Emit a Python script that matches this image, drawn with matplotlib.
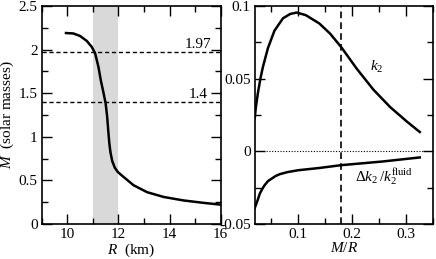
import matplotlib
matplotlib.use("Agg")
import matplotlib.pyplot as plt
from matplotlib.ticker import MultipleLocator

plt.rcParams['font.family'] = ['Liberation Serif', 'DejaVu Serif']
plt.rcParams['mathtext.fontset'] = 'custom'
plt.rcParams['mathtext.rm'] = 'Liberation Serif'
plt.rcParams['mathtext.it'] = 'Liberation Serif:italic'
plt.rcParams['font.size'] = 11

# Left panel: mass-radius curve
R_km = [9.95, 10.24, 10.50, 10.76, 10.96, 11.09, 11.22, 11.31, 11.42, 11.50,
        11.56, 11.60, 11.645, 11.69, 11.76, 11.86, 11.98, 12.2, 12.59, 13.12,
        13.77, 14.55, 15.34, 16.0]
M_sol = [2.19, 2.185, 2.156, 2.10, 2.03, 1.957, 1.80, 1.65, 1.50, 1.384,
         1.23, 1.08, 0.925, 0.82, 0.72, 0.645, 0.595, 0.54, 0.445, 0.365,
         0.31, 0.27, 0.242, 0.222]
mass_lines = [1.97, 1.4]
mass_labels = ["1.97", "1.4"]
band = [11, 12]

# Right panel: Love number vs compactness
C_k2 = [0.0195, 0.0215, 0.0253, 0.030, 0.0346, 0.0439, 0.056, 0.0717, 0.085,
        0.097, 0.114, 0.139, 0.159, 0.18, 0.208, 0.239, 0.27, 0.301, 0.325]
k2 = [0.0227, 0.030, 0.040, 0.050, 0.058, 0.071, 0.083, 0.0915, 0.0945,
      0.0955, 0.0937, 0.088, 0.081, 0.0715, 0.057, 0.0425, 0.0305, 0.0205, 0.0133]
C_dk = [0.0195, 0.025, 0.029, 0.034, 0.038, 0.044, 0.050, 0.058, 0.066, 0.08,
        0.1, 0.138, 0.18, 0.256, 0.325]
dk = [-0.039, -0.0335, -0.029, -0.0255, -0.0232, -0.0205, -0.019, -0.017,
      -0.0157, -0.0143, -0.013, -0.0115, -0.0095, -0.007, -0.0042]
C_mark = 0.18

fig = plt.figure(figsize=(4.36, 2.59), dpi=100)
H = 259.0; W = 436.0
ax1 = fig.add_axes([41.7/W, (H-224)/H, (220.7-41.7)/W, 218/H])
ax2 = fig.add_axes([255/W, (H-224)/H, (433.3-255)/W, 218/H])

ax1.axvspan(band[0], band[1], color='#d9d9d9', lw=0, zorder=0)
for m, lab in zip(mass_lines, mass_labels):
    ax1.axhline(m, color='black', ls=(0, (3, 2)), lw=1.0)
    ax1.text(15.1, m + 0.01, lab, ha='center', va='bottom')
ax1.plot(R_km, M_sol, color='black', lw=1.8)
ax1.set_xlim(9, 16)
ax1.set_ylim(0, 2.5)
ax1.xaxis.set_major_locator(MultipleLocator(2))
ax1.xaxis.set_minor_locator(MultipleLocator(1))
ax1.yaxis.set_minor_locator(MultipleLocator(0.25))
ax1.set_yticks([0, 0.5, 1, 1.5, 2, 2.5])
ax1.set_yticklabels(['0', '0.5', '1', '1.5', '2', '2.5'])
ax1.set_xlabel(r'$R$  (km)', labelpad=0)
ax1.set_ylabel(r'$M$  (solar masses)')
ax1.yaxis.set_label_coords((16 - 41.7) / 179.0, 0.5)

ax2.axhline(0, color='black', ls=(0, (1, 1.5)), lw=0.8)
ax2.axvline(C_mark, color='black', ls=(0, (4, 2.5)), lw=1.2)
ax2.plot(C_k2, k2, color='black', lw=1.8)
ax2.plot(C_dk, dk, color='black', lw=1.8)
ax2.set_xlim(0.02, 0.35)
ax2.set_ylim(-0.05, 0.1)
ax2.xaxis.set_minor_locator(MultipleLocator(0.05))
ax2.yaxis.set_minor_locator(MultipleLocator(0.025))
ax2.set_yticks([-0.05, 0, 0.05, 0.1])
ax2.set_yticklabels(['-0.05', '0', '0.05', '0.1'])
ax2.set_xticks([0.1, 0.2, 0.3])
ax2.set_xticklabels(['0.1', '0.2', '0.3'])
ax2.set_xlabel(r'$M/R$', labelpad=0)
ax2.text(0.233, 0.058, r'$k_2$', ha='left', va='center')
ax2.text(0.205, -0.0175, r'$\Delta k_2\,/k_2^{\rm fluid}$', ha='left', va='center')

for ax in (ax1, ax2):
    ax.tick_params(which='both', direction='in', top=True, right=True, width=1.0, pad=3)
    ax.tick_params(which='major', length=7.5)
    ax.tick_params(which='minor', length=4)
    for s in ax.spines.values():
        s.set_linewidth(1.2)

fig.savefig('out.png', dpi=100)
